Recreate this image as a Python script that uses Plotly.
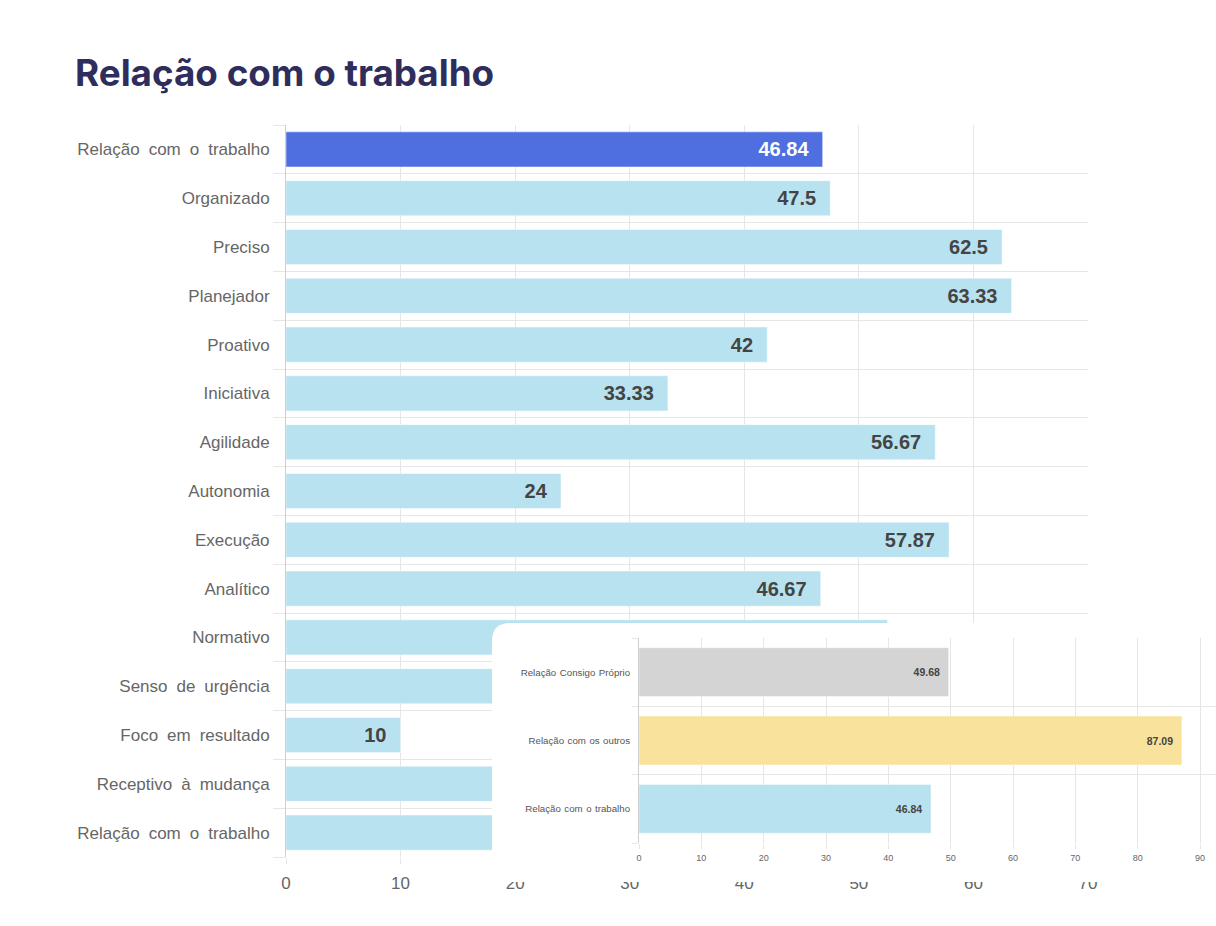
import plotly.graph_objects as go

# ---------------- data ----------------
title_text = "Relação com o trabalho"

categories = [
    "Relação com o trabalho", "Organizado", "Preciso", "Planejador", "Proativo",
    "Iniciativa", "Agilidade", "Autonomia", "Execução", "Analítico",
    "Normativo", "Senso de urgência", "Foco em resultado", "Receptivo à mudança",
    "Relação com o trabalho",
]
values = [46.84, 47.5, 62.5, 63.33, 42, 33.33, 56.67, 24, 57.87, 46.67,
          52.5, 55.0, 10, 57.5, 46.84]
highlighted = [True] + [False] * 14

inset_categories = ["Relação Consigo Próprio", "Relação com os outros", "Relação com o trabalho"]
inset_values = [49.68, 87.09, 46.84]
inset_colors = ["#D4D4D4", "#F9E29C", "#B8E2F0"]

main_xticks = [0, 10, 20, 30, 40, 50, 60, 70]
inset_xticks = [0, 10, 20, 30, 40, 50, 60, 70, 80, 90]

# ---------------- layout helpers ----------------
W, H = 1216, 926
def px(x):
    return x / W
def py(y):
    return 1 - y / H

FONT = "Liberation Sans, Arial, Helvetica, sans-serif"
GRID = "#E6E6E6"
AXIS = "#CFCFCF"
LIGHT = "#B8E2F0"
DARK = "#4F6FE0"
NB = "\u00a0"

def wide(label):
    # the source renders labels with generous word spacing
    return label.replace(" ", " \u2005")

def wide_small(label):
    return label.replace(" ", " \u200a")

n = len(categories)
ypos = list(range(n))
bar_colors = [DARK if h else LIGHT for h in highlighted]
text_colors = ["#FFFFFF" if h else "#444444" for h in highlighted]

fig = go.Figure()

# main bars
fig.add_trace(go.Bar(
    x=values, y=ypos, orientation="h", width=0.72,
    marker=dict(color=bar_colors, line=dict(color="rgba(255,255,255,0.45)", width=1)),
    text=[f"{v:g}" + NB * 2 for v in values],
    textposition="inside", insidetextanchor="end", constraintext="none",
    textfont=dict(family=FONT, size=20, color=text_colors, weight="bold"),
    hoverinfo="skip", showlegend=False, xaxis="x", yaxis="y",
))

# placeholder trace for the card subplot
fig.add_trace(go.Scatter(x=[None], y=[None], xaxis="x2", yaxis="y2",
                         showlegend=False, hoverinfo="skip"))

# inset bars
ipos = list(range(len(inset_categories)))
fig.add_trace(go.Bar(
    x=inset_values, y=ipos, orientation="h", width=0.715,
    marker=dict(color=inset_colors, line=dict(color="rgba(255,255,255,0.45)", width=1)),
    text=[f"{v:g}" + NB * 2 for v in inset_values],
    textposition="inside", insidetextanchor="end", constraintext="none",
    textfont=dict(family=FONT, size=10.5, color="#444444", weight="bold"),
    hoverinfo="skip", showlegend=False, xaxis="x3", yaxis="y3",
))

# rounded white card (drawn in the card subplot, above main chart, below inset)
card_top, card_bottom, card_left = 623, 882, 492
cw, ch = W - card_left, card_bottom - card_top
r = 18
rx, ry = r / cw, r / ch
card_path = f"M 0,0 L 0,{1 - ry} Q 0,1 {rx},1 L 1.02,1 L 1.02,0 Z"

fig.update_layout(
    width=W, height=H,
    margin=dict(l=0, r=0, t=0, b=0),
    paper_bgcolor="white",
    plot_bgcolor="rgba(0,0,0,0)",
    bargap=0.28,
    font=dict(family=FONT, color="#666666"),
    xaxis=dict(
        domain=[px(286), px(1088)], anchor="y", range=[0, 70],
        tickvals=main_xticks, showgrid=True, gridcolor=GRID, gridwidth=1,
        zeroline=False, ticks="outside", ticklen=6, tickcolor=GRID,
        tickfont=dict(size=17, color="#666666"), ticklabelstandoff=5,
        automargin=False, fixedrange=True,
    ),
    yaxis=dict(
        domain=[py(857), py(125)], anchor="x", range=[n - 0.5, -0.5],
        tickvals=ypos, ticktext=[wide(c) for c in categories],
        showgrid=False, zeroline=False,
        ticks="outside", ticklen=12, tickcolor="rgba(0,0,0,0)",
        showline=True, linecolor=AXIS, linewidth=1,
        minor=dict(tickvals=[i - 0.5 for i in range(n + 1)], showgrid=True,
                   gridcolor=GRID, gridwidth=1, ticks="outside", ticklen=12,
                   tickcolor=GRID),
        tickfont=dict(size=17, color="#666666"),
        automargin=False, fixedrange=True,
    ),
    xaxis2=dict(domain=[px(card_left), 1], anchor="y2", range=[0, 1], visible=False,
                fixedrange=True),
    yaxis2=dict(domain=[py(card_bottom), py(card_top)], anchor="x2", range=[0, 1],
                visible=False, fixedrange=True),
    xaxis3=dict(
        domain=[px(639), 1], anchor="y3", range=[0, (W - 639) / (561 / 90)],
        tickvals=inset_xticks, showgrid=True, gridcolor=GRID, zeroline=False,
        ticks="outside", ticklen=5, tickcolor=GRID,
        tickfont=dict(size=9, color="#666666"), ticklabelstandoff=1,
        automargin=False, fixedrange=True,
    ),
    yaxis3=dict(
        domain=[py(843), py(638)], anchor="x3",
        range=[len(inset_categories) - 0.5, -0.5],
        tickvals=ipos, ticktext=[wide_small(c) for c in inset_categories],
        showgrid=False, zeroline=False,
        ticks="outside", ticklen=6, tickcolor="rgba(0,0,0,0)",
        showline=True, linecolor=AXIS, linewidth=1,
        minor=dict(tickvals=[i - 0.5 for i in range(len(inset_categories) + 1)],
                   showgrid=True, gridcolor=GRID, ticks="outside", ticklen=6,
                   tickcolor=GRID),
        tickfont=dict(size=9.7, color="#555555"),
        automargin=False, fixedrange=True,
    ),
    shapes=[dict(type="path", path=card_path, xref="x2", yref="y2", layer="below",
                 fillcolor="white", line=dict(width=0))],
    annotations=[dict(
        text=title_text, x=px(73), y=py(72), xref="paper", yref="paper",
        xanchor="left", yanchor="middle", showarrow=False,
        font=dict(family="Inter, Poppins, sans-serif", size=36.8, color="#2E2D5B", weight=700),
    )],
)

fig.write_html("out.html")
